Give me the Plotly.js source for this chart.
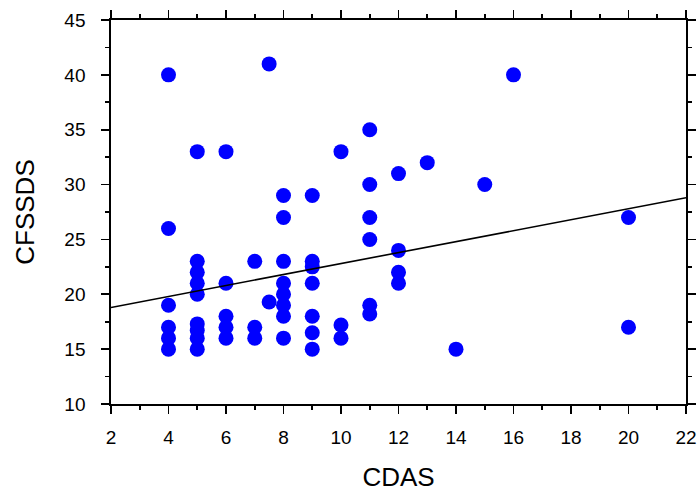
<!DOCTYPE html>
<html>
<head>
<meta charset="utf-8">
<script src="https://cdn.plot.ly/plotly-3.0.1.min.js"></script>
<style>html,body{margin:0;padding:0;background:#fff;}#chart{width:700px;height:492px;}</style>
</head>
<body>
<div id="chart"></div>
<script>
// CDAS (x) and CFSSDS (y) values
var cdas = [
  4, 4, 4, 4, 4, 4,
  5, 5, 5, 5, 5, 5, 5, 5, 5,
  6, 6, 6, 6, 6,
  7, 7, 7,
  7.5, 7.5,
  8, 8, 8, 8, 8, 8, 8, 8,
  9, 9, 9, 9, 9, 9, 9,
  10, 10, 10,
  11, 11, 11, 11, 11, 11,
  12, 12, 12, 12,
  13, 14, 15, 16,
  20, 20
];
var cfssds = [
  40, 26, 19, 17, 16, 15,
  33, 23, 22, 21, 20, 17.3, 16.7, 16, 15,
  33, 21, 18, 17, 16,
  23, 17, 16,
  41, 19.3,
  29, 27, 23, 21, 20, 19, 18, 16,
  29, 23, 22.5, 21, 18, 16.5, 15,
  33, 17.2, 16,
  35, 30, 27, 25, 19, 18.2,
  31, 24, 22, 21,
  32, 15, 30, 40,
  27, 17
];
// fitted line end points
var fitX = [2, 22];
var fitY = [18.8, 28.8];

var xTicks = [2, 4, 6, 8, 10, 12, 14, 16, 18, 20, 22];
var yTicks = [10, 15, 20, 25, 30, 35, 40, 45];

var traces = [
  {
    x: cdas, y: cfssds, type: 'scatter', mode: 'markers',
    marker: {color: '#0000ff', size: 15, line: {width: 0}},
    hoverinfo: 'x+y', showlegend: false, cliponaxis: false
  },
  {
    x: fitX, y: fitY, type: 'scatter', mode: 'lines',
    line: {color: '#000000', width: 1.6},
    showlegend: false
  }
];

var fam = 'Liberation Sans, Arial, sans-serif';
var axisCommon = {
  showgrid: false, zeroline: false,
  showline: true, linecolor: '#000', linewidth: 1.7,
  mirror: 'ticks', ticks: 'outside', ticklen: 8, tickwidth: 1.7, tickcolor: '#000',
  tickfont: {family: fam, size: 19, color: '#000'}
};

var layout = {
  width: 700, height: 492,
  margin: {l: 111, r: 14, t: 20, b: 88},
  paper_bgcolor: '#fff', plot_bgcolor: '#fff',
  xaxis: Object.assign({}, axisCommon, {
    range: [2, 22], tickvals: xTicks, ticktext: xTicks.map(String),
    ticklabelstandoff: 7,
    minor: {dtick: 1, tick0: 2, ticks: 'outside', ticklen: 4, tickwidth: 1.7, tickcolor: '#000'},
    title: {text: 'CDAS', font: {family: fam, size: 26, color: '#000'}, standoff: 21}
  }),
  yaxis: Object.assign({}, axisCommon, {
    range: [10, 45], tickvals: yTicks, ticktext: yTicks.map(String),
    ticklabelstandoff: 12,
    minor: {dtick: 2.5, tick0: 10, ticks: 'outside', ticklen: 4, tickwidth: 1.7, tickcolor: '#000'},
    title: {text: 'CFSSDS', font: {family: fam, size: 26, color: '#000'}, standoff: 22}
  })
};

Plotly.newPlot('chart', traces, layout, {displayModeBar: false, staticPlot: true});
</script>
</body>
</html>
